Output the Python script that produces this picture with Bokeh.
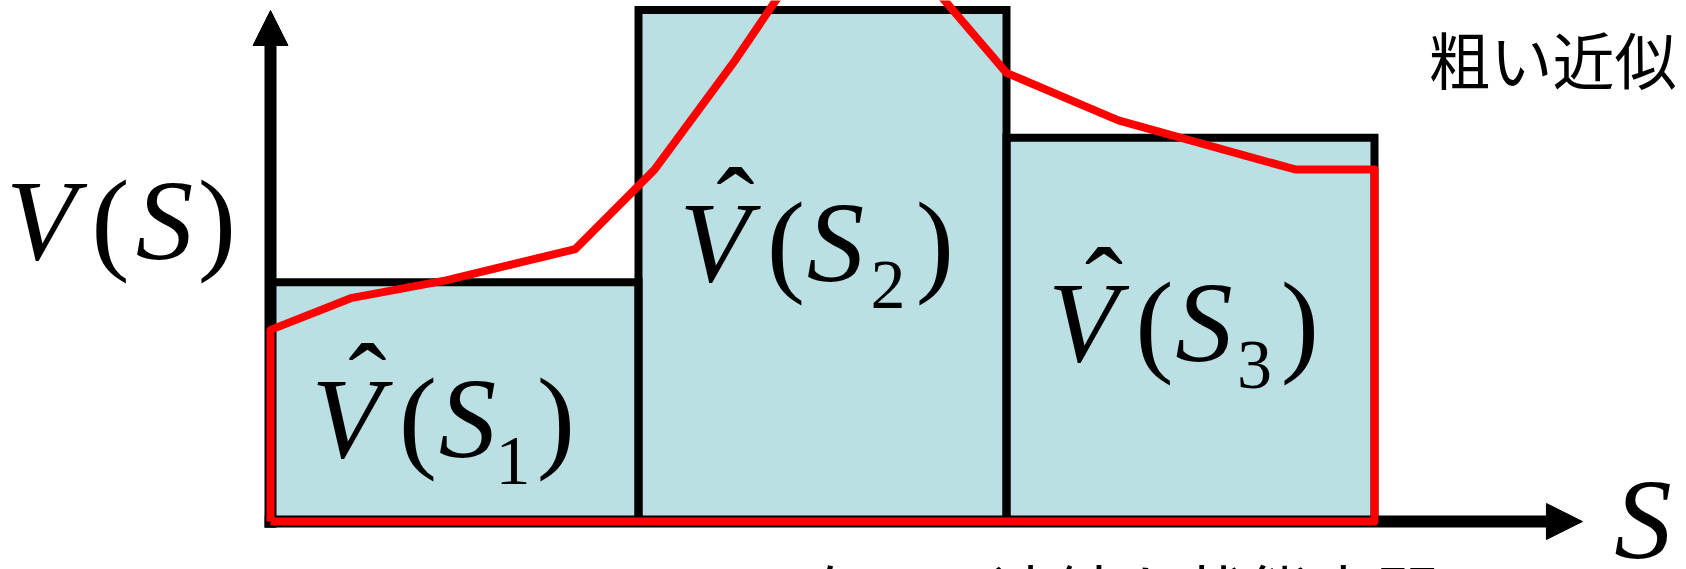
from bokeh.plotting import figure
from bokeh.models import Range1d, Label, Arrow, NormalHead
from bokeh.embed import file_html
from bokeh.resources import INLINE

# ---- data (S in bin units, V normalised) ----
bar_left = [0, 1, 2]
bar_right = [1, 2, 3]
bar_value = [0.468, 1.001, 0.751]
bar_subscripts = ["1", "2", "3"]

curve_s = [0, 0, 0.218, 0.477, 0.828, 1.043, 1.264, 1.576, 2.0, 2.304, 2.784, 3.0, 3.0, 0]
curve_v = [0, 0.375, 0.437, 0.472, 0.533, 0.688, 0.904, 1.235, 0.878, 0.785, 0.689, 0.689, 0, 0]

x_axis_span = [-0.016, 3.565]
y_axis_span = [-0.012, 1.0]

y_title = ["V", "(", "S", ")"]
x_title = "S"
note_text = "粗い近似"
bottom_text = "次元の連続な状態空間"

# ---- layout helpers (reference pixel -> data) ----
X0, SX = 270.0, 368.0
Y0, SY = 521.0, 511.0
def sx(px):
    return (px - X0) / SX
def vy(py):
    return (Y0 - py) / SY

W, H = 1686, 569
p = figure(width=W, height=H, output_backend="svg", toolbar_location=None,
           x_range=Range1d(sx(0), sx(W)), y_range=Range1d(vy(H), vy(0)),
           min_border=0)
p.axis.visible = False
p.grid.visible = False
p.outline_line_color = None
p.background_fill_color = "white"
p.border_fill_color = "white"

FILL = "#BBE0E3"
bars_fill = p.quad(left=bar_left, right=bar_right, bottom=0, top=bar_value,
                   fill_color=FILL, line_color=None)
bars_fill.level = "image"
bars_line = p.quad(left=bar_left, right=bar_right, bottom=0, top=bar_value,
                   fill_color=None, line_color="black", line_width=8, line_join="miter")
bars_line.level = "image"

ax_x = Arrow(end=NormalHead(size=36, fill_color="black", line_color="black", line_width=1),
             x_start=x_axis_span[0], y_start=0, x_end=x_axis_span[1], y_end=0,
             line_width=12, line_color="black", level="underlay")
ax_y = Arrow(end=NormalHead(size=35, fill_color="black", line_color="black", line_width=1),
             x_start=0, y_start=y_axis_span[0], x_end=0, y_end=y_axis_span[1],
             line_width=12, line_color="black", level="underlay")
p.add_layout(ax_x)
p.add_layout(ax_y)

p.line(curve_s, curve_v, line_color="#FF0000", line_width=8, line_join="round")

SERIF = "Liberation Serif"
CJK = "Noto Sans CJK JP"
# the renderer places "alphabetic" text lower by about a third of an em; compensate
SHIFT = {SERIF: 0.3375, CJK: 0.355}

def piece(text, cx, base, size, italic=False, font=SERIF, align="center"):
    b = base - SHIFT[font] * size
    p.add_layout(Label(x=sx(cx), y=vy(b), text=text, text_font=font,
                       text_font_size=f"{size}px",
                       text_font_style="italic" if italic else "normal",
                       text_align=align, text_baseline="alphabetic",
                       text_color="black"))

IT = -7  # italic ink leans right of the advance centre

# V(S) on the left
for t, cx in zip(y_title, [47.5, 110, 164, 216.5]):
    piece(t, cx + (IT if t == "V" else 0), 259, 115, italic=t.isalpha())

# bar labels  V^(S_i)
v_cx = [353, 721, 1089.5]
base = [457, 281, 361]
sub_off = [159.5, 166.5, 164.5]
close_off = [202.5, 213.5, 210]
for i, sub in enumerate(bar_subscripts):
    c, b = v_cx[i], base[i]
    piece("V", c + IT, b, 115, italic=True)
    piece("ˆ", c + 14, b - 34, 115)
    piece("(", c + 64.5, b, 115)
    piece("S", c + 117.5 + IT / 2, b, 115, italic=True)
    piece(sub, c + sub_off[i], b + 27, 70)
    piece(")", c + close_off[i], b, 115)

# axis letter S
piece(x_title, 1646 + IT / 2, 558, 115, italic=True)

piece(note_text, 1428, 80, 62, font=CJK, align="left")
piece(bottom_text, 799, 613, 64, font=CJK, align="left")

open("out.html", "w").write(file_html(p, INLINE))
